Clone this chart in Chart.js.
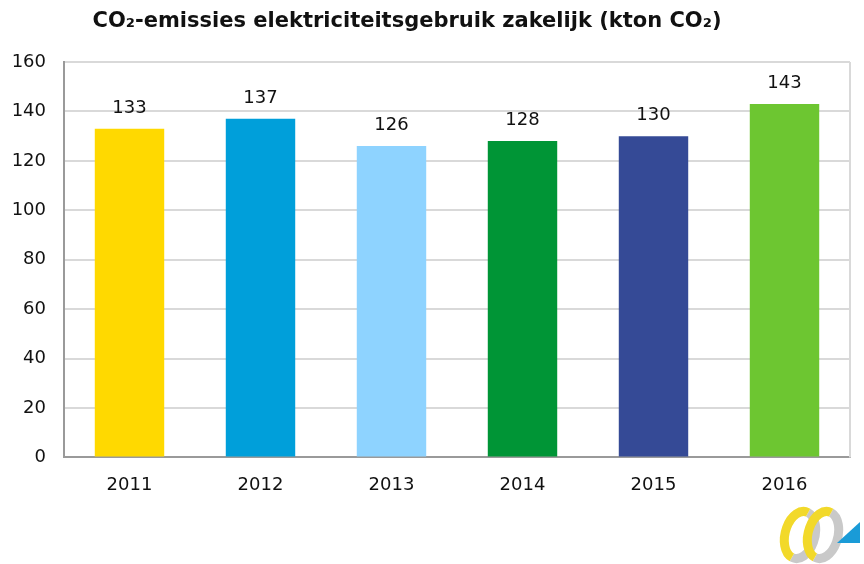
<!DOCTYPE html>
<html>
<head>
<meta charset="utf-8">
<script src="https://cdn.jsdelivr.net/npm/chart.js@4"></script>
<style>
  html, body { margin: 0; padding: 0; background: #fff; }
  #wrap { width: 864px; height: 564px; }
</style>
</head>
<body>
<div id="wrap"><canvas id="can" width="864" height="564"></canvas></div>
<script>
// data
const jaren = ['2011', '2012', '2013', '2014', '2015', '2016']
const emissies = [133, 137, 126, 128, 130, 143]
const kleuren = ['#FFD900', '#009FDA', '#8ED3FF', '#009536', '#354A96', '#6DC631']
const yTicks = [0, 20, 40, 60, 80, 100, 120, 140, 160]
const titel = 'CO₂-emissies elektriciteitsgebruik zakelijk (kton CO₂)'

const fontNaam = "'DejaVu Sans', Verdana, sans-serif"

// titel, waarden boven de staven + rechter rand van het plotvlak
const labelsPlugin = {
  id: 'labels',
  afterDatasetsDraw(chart) {
    const ctx = chart.ctx
    const area = chart.chartArea
    ctx.save()
    ctx.strokeStyle = '#d9d9d9'
    ctx.lineWidth = 2
    ctx.beginPath()
    ctx.moveTo(area.right, area.top)
    ctx.lineTo(area.right, area.bottom)
    ctx.stroke()

    ctx.fillStyle = '#111'
    ctx.textAlign = 'center'
    ctx.textBaseline = 'middle'
    ctx.font = 'bold 21px ' + fontNaam
    ctx.fillText(titel, 407, 22)

    const meta = chart.getDatasetMeta(0)
    ctx.font = '18px ' + fontNaam
    ctx.textBaseline = 'alphabetic'
    meta.data.forEach((bar, i) => {
      ctx.fillText(emissies[i], bar.x, bar.y - 16)
    })
    ctx.restore()
  }
}

// klein logo rechtsonder
const logoPlugin = {
  id: 'logo',
  afterDraw(chart) {
    const ctx = chart.ctx
    ctx.save()
    ctx.lineWidth = 9
    ctx.strokeStyle = '#C9C9C9'
    ctx.beginPath()
    ctx.ellipse(800, 535, 15, 24, 0.25, Math.PI * 1.55, Math.PI * 0.55)
    ctx.stroke()
    ctx.beginPath()
    ctx.ellipse(823, 535, 15, 24, 0.25, Math.PI * 1.55, Math.PI * 0.55)
    ctx.stroke()
    ctx.strokeStyle = '#F2D92A'
    ctx.beginPath()
    ctx.ellipse(800, 535, 15, 24, 0.25, Math.PI * 0.55, Math.PI * 1.55)
    ctx.stroke()
    ctx.beginPath()
    ctx.ellipse(823, 535, 15, 24, 0.25, Math.PI * 0.55, Math.PI * 1.55)
    ctx.stroke()
    ctx.fillStyle = '#1A9BD7'
    ctx.beginPath()
    ctx.moveTo(837, 543)
    ctx.lineTo(860, 543)
    ctx.lineTo(860, 522)
    ctx.closePath()
    ctx.fill()
    ctx.restore()
  }
}

new Chart(document.getElementById('can'), {
  type: 'bar',
  data: {
    labels: jaren,
    datasets: [{
      data: emissies,
      backgroundColor: kleuren,
      categoryPercentage: 1,
      barPercentage: 0.53
    }]
  },
  options: {
    responsive: false,
    animation: false,
    layout: { padding: { top: 62, right: 14, bottom: 51, left: 0 } },
    plugins: {
      legend: { display: false },
      tooltip: { enabled: false },
      title: { display: false }
    },
    scales: {
      x: {
        grid: { display: false, drawTicks: false },
        border: { color: '#9a9a9a', width: 2 },
        ticks: {
          color: '#111',
          font: { family: fontNaam, size: 18 },
          padding: 17
        }
      },
      y: {
        min: 0,
        max: 160,
        afterBuildTicks(axis) { axis.ticks = yTicks.map(v => ({ value: v })) },
        afterFit(axis) { axis.width = 64 },
        grid: { color: '#d9d9d9', lineWidth: 2, drawTicks: false },
        border: { color: '#9a9a9a', width: 2 },
        ticks: {
          color: '#111',
          font: { family: fontNaam, size: 18 },
          padding: 18
        }
      }
    }
  },
  plugins: [labelsPlugin, logoPlugin]
})
</script>
</body>
</html>
